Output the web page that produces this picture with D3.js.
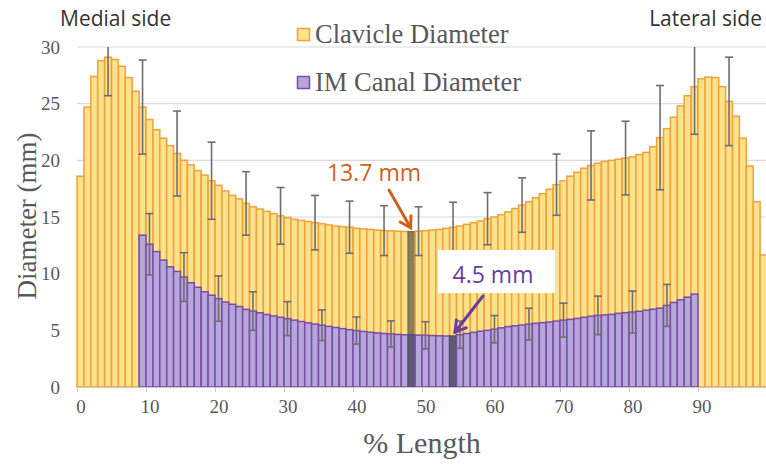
<!DOCTYPE html>
<html><head><meta charset="utf-8">
<script src="https://cdn.jsdelivr.net/npm/d3@7"></script>
<style>body{margin:0;background:#fff}svg{display:block}</style>
</head><body>
<svg id="c" width="766" height="464"></svg>
<script>
// ---- data ----
const clavicle = [18.6,24.7,27.4,28.8,29.1,28.9,28.3,27.3,26.1,24.7,
23.6,22.7,21.95,21.3,20.6,20.0,19.6,19.1,18.7,18.2,
17.8,17.3,16.9,16.6,16.2,15.9,15.7,15.5,15.3,15.1,
14.95,14.8,14.7,14.6,14.5,14.4,14.3,14.2,14.15,14.1,
14.0,13.95,13.9,13.85,13.8,13.78,13.75,13.72,13.7,13.75,
13.8,13.85,13.9,14.0,14.1,14.2,14.35,14.5,14.65,14.85,
15.0,15.2,15.45,15.75,16.05,16.35,16.7,17.05,17.45,17.85,
18.2,18.6,18.95,19.3,19.55,19.75,19.9,20.0,20.1,20.2,
20.3,20.5,20.7,21.2,22.0,22.8,23.8,24.8,25.7,26.5,
27.2,27.35,27.3,26.5,25.2,23.9,21.95,19.5,16.35,11.65];
const canalStart = 9;
const canal = [13.4,12.6,11.95,11.2,10.6,10.2,9.7,9.2,8.8,8.4,
8.1,7.8,7.5,7.3,7.1,6.85,6.7,6.55,6.4,6.27,
6.15,6.03,5.9,5.78,5.66,5.55,5.45,5.35,5.25,5.15,
5.06,4.98,4.9,4.83,4.77,4.72,4.68,4.64,4.61,4.6,
4.58,4.56,4.54,4.52,4.5,4.5,4.62,4.72,4.82,4.92,
5.0,5.1,5.22,5.33,5.4,5.47,5.55,5.62,5.68,5.74,
5.82,5.9,5.97,6.05,6.15,6.25,6.32,6.36,6.41,6.5,
6.56,6.62,6.68,6.77,6.86,6.95,7.2,7.46,7.69,7.93,8.2];
const clavErrIdx = [4,9,14,19,24,29,34,39,44,49,54,59,64,69,74,79,84,89,94];
const clavErrSd  = [3.4,4.15,3.75,3.4,2.8,2.5,2.4,2.3,2.2,2.15,2.2,2.3,2.4,2.7,3.05,3.25,4.6,4.2,3.9];
const canalErrIdx = [10,15,20,25,30,35,40,45,50,55,60,65,70,75,80,85];
const canalErrSd  = [2.7,2.15,2.0,1.7,1.5,1.35,1.2,1.15,1.2,1.2,1.2,1.4,1.5,1.7,1.85,1.85];
const xTicks = [0,10,20,30,40,50,60,70,80,90];
const yTicks = [0,5,10,15,20,25,30];
const clavMinIdx = 48, canalMinIdx = 54;
const clavMinLabel = "13.7 mm", canalMinLabel = "4.5 mm";
const seriesNames = ["Clavicle Diameter","IM Canal Diameter"];

// ---- drawing ----
const svg = d3.select("#c");
const x = d3.scaleLinear().domain([0,100]).range([77,767]);
const y = d3.scaleLinear().domain([0,30]).range([387,47]);
const bw = x(1)-x(0);
const SERIF = "Liberation Serif, Times New Roman, serif";
const SANS = "Open Sans, sans-serif";

// gridlines
svg.append("g").selectAll("line").data(yTicks.filter(d=>d>0)).join("line")
  .attr("x1",77).attr("x2",766).attr("y1",d=>y(d)).attr("y2",d=>y(d))
  .attr("stroke","#d9d9d9").attr("stroke-width",1.2);

const YF="#fde28c", YS="#eea23c", PF="#b5a6db", PS="#7a4da2";
// clavicle bars
svg.append("g").selectAll("rect").data(clavicle).join("rect")
  .attr("x",(d,i)=>x(i)).attr("width",bw)
  .attr("y",d=>y(d)).attr("height",d=>y(0)-y(d))
  .attr("fill",(d,i)=>i===clavMinIdx?"#8a7f58":YF)
  .attr("stroke",(d,i)=>i===clavMinIdx?"#7b7050":YS).attr("stroke-width",1.5);
// canal bars
svg.append("g").selectAll("rect").data(canal).join("rect")
  .attr("x",(d,i)=>x(i+canalStart)).attr("width",bw)
  .attr("y",d=>y(d)).attr("height",d=>y(0)-y(d))
  .attr("fill",(d,i)=>(i+canalStart===canalMinIdx||i+canalStart===clavMinIdx)?"#5e5870":PF)
  .attr("stroke",(d,i)=>(i+canalStart===canalMinIdx||i+canalStart===clavMinIdx)?"#55506a":PS).attr("stroke-width",1.5);

// x axis
const xa = svg.append("g").attr("transform","translate(0,387)")
  .call(d3.axisBottom(x).tickValues(xTicks).tickSize(5).tickSizeOuter(0).tickPadding(8));
xa.select(".domain").attr("stroke","#c8c8c8").attr("stroke-width",1.2).attr("d","M77,0.5H766");
xa.selectAll(".tick line").attr("stroke","#c8c8c8");
xa.selectAll(".tick text").attr("dx",bw/2).attr("fill","#595959")
  .style("font-family",SERIF).style("font-size","19px");

// y axis labels
svg.append("g").selectAll("text").data(yTicks).join("text")
  .attr("x",60).attr("y",d=>y(d)).attr("dy","0.35em").attr("text-anchor","end")
  .attr("fill","#595959").style("font-family",SERIF).style("font-size","19px")
  .text(d=>d);

// error bars
function errBars(idx, sd, vals, off){
  const g = svg.append("g").attr("stroke","#6e6e6e").attr("stroke-width",1.6);
  idx.forEach((i,k)=>{
    const v = vals[i-off];
    const hi = Math.min(30, v+sd[k]), lo = v-sd[k];
    const cx = x(i+0.5);
    g.append("line").attr("x1",cx).attr("x2",cx).attr("y1",y(hi)).attr("y2",y(lo));
    if (v+sd[k] <= 30) g.append("line").attr("x1",cx-4).attr("x2",cx+4).attr("y1",y(hi)).attr("y2",y(hi));
    g.append("line").attr("x1",cx-4).attr("x2",cx+4).attr("y1",y(lo)).attr("y2",y(lo));
  });
}
errBars(clavErrIdx, clavErrSd, clavicle, 0);
errBars(canalErrIdx, canalErrSd, canal, canalStart);

// axis titles
svg.append("text").attr("x",422).attr("y",453).attr("text-anchor","middle")
  .attr("fill","#595959").style("font-family",SERIF).style("font-size","30px").text("% Length");
svg.append("text").attr("transform","translate(36,216) rotate(-90)").attr("text-anchor","middle")
  .attr("fill","#595959").style("font-family",SERIF).style("font-size","27px").text("Diameter (mm)");

// side labels
svg.append("text").attr("x",60).attr("y",26).attr("fill","#333")
  .style("font-family",SANS).style("font-size","21px").text("Medial side");
svg.append("text").attr("x",762).attr("y",26).attr("text-anchor","end").attr("fill","#333")
  .style("font-family",SANS).style("font-size","21px").text("Lateral side");

// legend
const lg = svg.append("g");
[[YF,YS,43],[PF,PS,91]].forEach((c,k)=>{
  lg.append("rect").attr("x",297.5).attr("y",c[2]-14.5).attr("width",12).attr("height",12)
    .attr("fill",c[0]).attr("stroke",c[1]).attr("stroke-width",1.5);
  lg.append("text").attr("x",315).attr("y",c[2]).attr("fill","#595959")
    .style("font-family",SERIF).style("font-size","26.5px").text(seriesNames[k]);
});

// annotations
const OR="#cf5f1a", PU="#6a3d9a";
function arrow(x1,y1,x2,y2,col){
  const g=svg.append("g").attr("stroke",col).attr("stroke-width",3).attr("fill","none").attr("stroke-linecap","round");
  g.append("line").attr("x1",x1).attr("y1",y1).attr("x2",x2).attr("y2",y2);
  const a=Math.atan2(y2-y1,x2-x1), L=12, s=0.55;
  g.append("path").attr("d",`M${x2-L*Math.cos(a-s)},${y2-L*Math.sin(a-s)}L${x2},${y2}L${x2-L*Math.cos(a+s)},${y2-L*Math.sin(a+s)}`);
}
const tx1 = x(clavMinIdx+0.5), ty1 = y(clavicle[clavMinIdx]);
svg.append("text").attr("x",374).attr("y",181).attr("text-anchor","middle").attr("fill",OR)
  .style("font-family",SANS).style("font-size","23px").text(clavMinLabel);
arrow(389,190,tx1-1,ty1-4,OR);

svg.append("rect").attr("x",438).attr("y",250).attr("width",117).attr("height",43).attr("fill","#fff");
svg.append("text").attr("x",493).attr("y",283).attr("text-anchor","middle").attr("fill",PU)
  .style("font-family",SANS).style("font-size","23px").text(canalMinLabel);
const tx2 = x(canalMinIdx+0.5), ty2 = y(canal[canalMinIdx-canalStart]);
arrow(483,296,tx2+2,ty2-4,PU);
</script>
</body></html>
